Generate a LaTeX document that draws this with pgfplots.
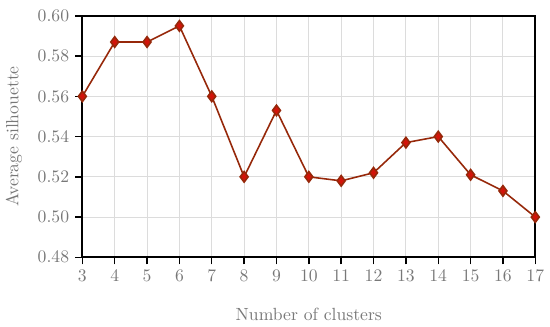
\documentclass[border=0pt]{standalone}
\usepackage{pgfplots}
\pgfplotsset{compat=1.18}
\definecolor{linebrown}{RGB}{150,40,10}
\definecolor{markred}{RGB}{210,20,10}
\definecolor{labelgray}{RGB}{120,120,120}
\definecolor{gridgray}{RGB}{220,220,220}
\begin{document}
\begin{tikzpicture}
    \begin{axis}[
        scale only axis,
        width=257pt,
        height=137pt,
        xmin=3, xmax=17,
        ymin=0.48, ymax=0.60,
        xtick={3,4,...,17},
        ytick={0.48,0.50,...,0.601},
        yticklabel style={/pgf/number format/.cd, fixed, fixed zerofill, precision=2},
        xlabel={Number of clusters},
        ylabel={Average silhouette},
        xlabel style={labelgray, yshift=-8pt},
        ylabel style={labelgray, yshift=2pt},
        tick label style={labelgray},
        axis line style={black, line width=1pt},
        tick style={black, line width=0.8pt},
        tick align=outside,
        xtick pos=bottom, ytick pos=left,
        major tick length=4pt,
        grid=major,
        major grid style={gridgray, line width=0.6pt},
    ]
        \addplot[linebrown, line width=0.9pt, mark=diamond*, mark size=3pt,
                 mark options={fill=markred, draw=linebrown}] coordinates {
            (3, 0.560) (4, 0.587) (5, 0.587) (6, 0.595) (7, 0.560)
            (8, 0.520) (9, 0.553) (10, 0.520) (11, 0.518) (12, 0.522)
            (13, 0.537) (14, 0.540) (15, 0.521) (16, 0.513) (17, 0.500)
        };
    \end{axis}
    \path (current axis.north east) ++(2pt,9pt) coordinate (pad);
    \path (pad) -- (pad);
\end{tikzpicture}
\end{document}
